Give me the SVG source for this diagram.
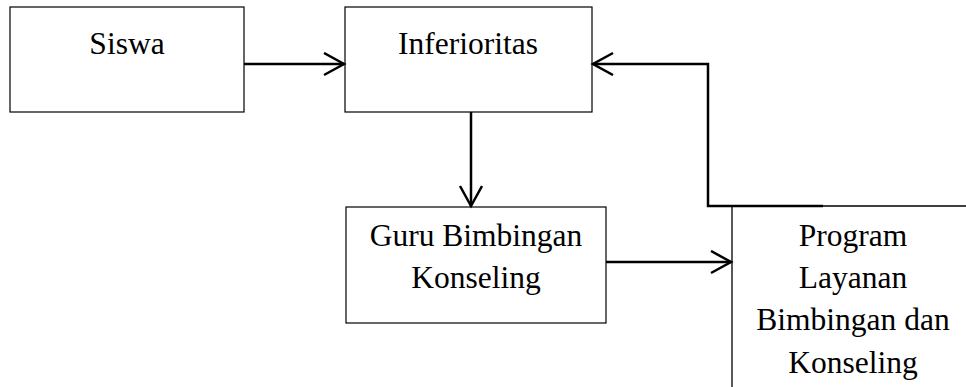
<svg xmlns="http://www.w3.org/2000/svg" width="966" height="387" viewBox="0 0 966 387">
<style>
.box{fill:#fff;stroke:#000;stroke-width:1.2}
.t{font-family:'Liberation Serif','Times New Roman',serif;font-size:31.5px;fill:#000;text-anchor:middle}
.c{fill:none;stroke:#000;stroke-width:2.5}
.thin{fill:none;stroke:#000;stroke-width:1.3}
</style>
<defs>
<marker id="ah" markerUnits="userSpaceOnUse" markerWidth="24" markerHeight="26" refX="21" refY="12" orient="auto">
<path d="M1,1 L21,12 L1,23" fill="none" stroke="#000" stroke-width="2.5"/>
</marker>
</defs>
<rect width="966" height="387" fill="#fff"/>
<g id="siswa">
<rect class="box" x="10" y="7" width="234" height="105"/>
<text class="t" x="127" y="54">Siswa</text>
</g>
<g id="inferioritas">
<rect class="box" x="345" y="7" width="247" height="105"/>
<text class="t" x="468" y="54">Inferioritas</text>
</g>
<g id="guru">
<rect class="box" x="346" y="207" width="260" height="116"/>
<text class="t" x="476" y="246">Guru Bimbingan</text>
<text class="t" x="476" y="288">Konseling</text>
</g>
<g id="program">
<path class="thin" d="M732,207 V387 M708,206 H966"/>
<text class="t" x="853" y="246">Program</text>
<text class="t" x="853" y="288">Layanan</text>
<text class="t" x="853" y="330">Bimbingan dan</text>
<text class="t" x="853" y="373">Konseling</text>
</g>
<g id="connectors">
<path class="c" d="M244,64 H344" marker-end="url(#ah)"/>
<path class="c" d="M471,112 V206" marker-end="url(#ah)"/>
<path class="c" d="M606,262 H731" marker-end="url(#ah)"/>
<path class="c" d="M823,206 H708 V64 H593" marker-end="url(#ah)"/>
</g>
</svg>
